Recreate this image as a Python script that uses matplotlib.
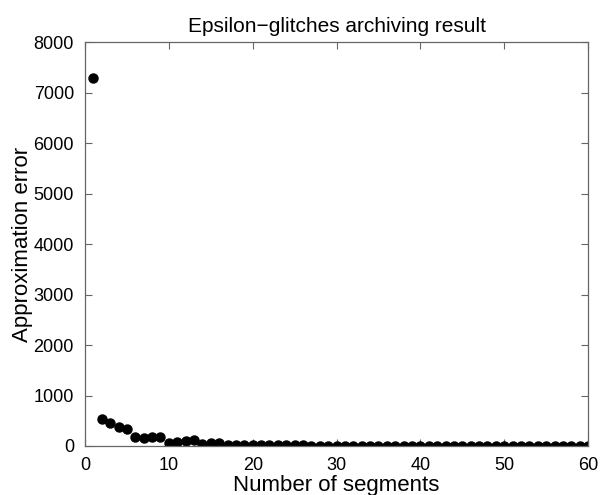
import numpy as np
import matplotlib.pyplot as plt

plt.rcParams['font.family'] = ['Liberation Sans', 'DejaVu Sans']

# number of segments vs approximation error
segments = list(range(1, 61))
errors = [7280, 535, 460, 375, 330, 185, 160, 170, 170, 65,
          70, 90, 110, 40, 65, 65, 25, 25, 15, 15,
          25, 25, 10, 10, 10, 10, 8, 8, 8, 8,
          6, 6, 6, 6, 5, 5, 5, 5, 5, 5,
          4, 4, 4, 4, 4, 3, 3, 3, 3, 3,
          3, 2, 2, 2, 2, 2, 2, 2, 2, 2]

fig = plt.figure(figsize=(6.05, 4.95), dpi=100)
ax = fig.add_axes([0.1405, 0.099, 0.8315, 0.816])

ax.plot(segments, errors, 'o', color='black', markersize=6.5)

ax.set_xlim(0, 60)
ax.set_ylim(0, 8000)
ax.set_xticks(np.arange(0, 61, 10))
ax.set_yticks(np.arange(0, 8001, 1000))

ax.set_title('Epsilon\u2212glitches archiving result', fontsize=15, pad=7)
ax.set_xlabel('Number of segments', fontsize=16, labelpad=1)
ax.set_ylabel('Approximation error', fontsize=16, labelpad=0)

for s in ax.spines.values():
    s.set_color('#666666')
    s.set_linewidth(0.9)
ax.tick_params(direction='in', length=5, width=0.8, color='#666666',
               labelsize=13)
ax.tick_params(axis='x', pad=8)
ax.tick_params(axis='y', pad=8)
ax.tick_params(top=True, right=True)

fig.savefig('out.png', dpi=100)
